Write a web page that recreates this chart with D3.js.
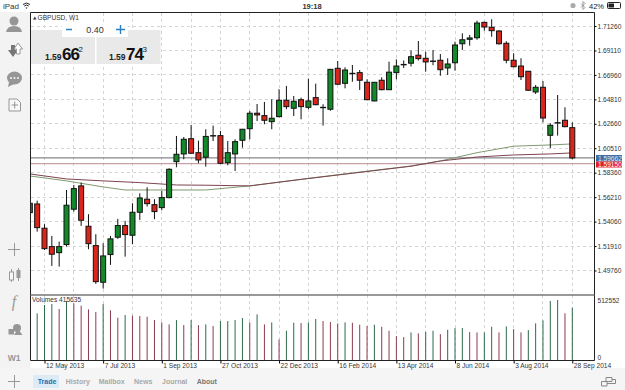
<!DOCTYPE html>
<html>
<head>
<meta charset="utf-8">
<script src="https://cdn.jsdelivr.net/npm/d3@7"></script>
<style>
  html, body { margin: 0; padding: 0; background: #fff; overflow: hidden; }
  svg { display: block; }
  text { font-family: "Liberation Sans", Arial, sans-serif; fill: #333; }
  .axis-label { font-size: 6.6px; fill: #333; }
</style>
</head>
<body>
<svg width="625" height="390"></svg>
<script>
// GBPUSD weekly candles
const opens = [
  1.5485, 1.5561, 1.5348, 1.5186, 1.5133, 1.5204, 1.5515, 1.5720, 1.5365, 1.5195,
  1.4873, 1.5116, 1.5269, 1.5371, 1.5286, 1.5488, 1.5603, 1.5555, 1.5529, 1.5617,
  1.5933, 1.6001, 1.6135, 1.6012, 1.5972, 1.6162, 1.6162, 1.5924, 1.6001, 1.6121,
  1.6223, 1.6359, 1.6338, 1.6285, 1.6329, 1.6473, 1.6403, 1.6478, 1.6411, 1.6496,
  1.6411, 1.6394, 1.6754, 1.6622, 1.6710, 1.6716, 1.6631, 1.6467, 1.6649, 1.6566,
  1.6716, 1.6788, 1.6799, 1.6869, 1.6842, 1.6818, 1.6825, 1.6757, 1.6803, 1.6970,
  1.7009, 1.7023, 1.7158, 1.7115, 1.7082, 1.6974, 1.6825, 1.6774, 1.6728, 1.6546,
  1.6587, 1.6165, 1.6276, 1.6297, 1.6232
];
const highs = [
  1.5579, 1.5590, 1.5383, 1.5280, 1.5230, 1.5684, 1.5728, 1.5749, 1.5471, 1.5295,
  1.5216, 1.5280, 1.5430, 1.5412, 1.5567, 1.5655, 1.5708, 1.5603, 1.5676, 1.5875,
  1.6159, 1.6150, 1.6256, 1.6118, 1.6218, 1.6250, 1.6203, 1.6115, 1.6130, 1.6221,
  1.6379, 1.6440, 1.6458, 1.6482, 1.6570, 1.6599, 1.6511, 1.6496, 1.6663, 1.6619,
  1.6438, 1.6748, 1.6818, 1.6763, 1.6783, 1.6739, 1.6657, 1.6634, 1.6675, 1.6812,
  1.6832, 1.6823, 1.6911, 1.6994, 1.6900, 1.6915, 1.6880, 1.6842, 1.6988, 1.7062,
  1.7047, 1.7173, 1.7164, 1.7185, 1.7091, 1.6992, 1.6886, 1.6842, 1.6730, 1.6607,
  1.6642, 1.6271, 1.6519, 1.6411, 1.6279
];
const lows = [
  1.5465, 1.5318, 1.5157, 1.5016, 1.5010, 1.5186, 1.5494, 1.5368, 1.5163, 1.4858,
  1.4817, 1.5025, 1.5254, 1.5098, 1.5207, 1.5421, 1.5538, 1.5427, 1.5506, 1.5611,
  1.5884, 1.5954, 1.6001, 1.5919, 1.5889, 1.6115, 1.5913, 1.5901, 1.5851, 1.6056,
  1.6130, 1.6291, 1.6262, 1.6218, 1.6323, 1.6394, 1.6335, 1.6306, 1.6394, 1.6429,
  1.6250, 1.6381, 1.6607, 1.6578, 1.6636, 1.6563, 1.6473, 1.6464, 1.6561, 1.6563,
  1.6657, 1.6757, 1.6770, 1.6823, 1.6724, 1.6781, 1.6689, 1.6695, 1.6733, 1.6915,
  1.6953, 1.7005, 1.7085, 1.7032, 1.6962, 1.6798, 1.6763, 1.6651, 1.6557, 1.6528,
  1.6279, 1.6051, 1.6162, 1.6235, 1.5954
];
const closes = [
  1.5567, 1.5353, 1.5168, 1.5119, 1.5186, 1.5550, 1.5696, 1.5418, 1.5212, 1.4878,
  1.5104, 1.5254, 1.5371, 1.5292, 1.5488, 1.5614, 1.5564, 1.5494, 1.5617, 1.5866,
  1.5998, 1.6130, 1.6007, 1.5948, 1.6155, 1.6162, 1.5919, 1.6012, 1.6109, 1.6218,
  1.6359, 1.6344, 1.6297, 1.6315, 1.6473, 1.6417, 1.6464, 1.6417, 1.6467, 1.6434,
  1.6411, 1.6745, 1.6614, 1.6739, 1.6710, 1.6649, 1.6478, 1.6631, 1.6566, 1.6720,
  1.6774, 1.6788, 1.6856, 1.6839, 1.6810, 1.6818, 1.6742, 1.6792, 1.6959, 1.7005,
  1.7021, 1.7152, 1.7117, 1.7085, 1.6970, 1.6825, 1.6768, 1.6680, 1.6561, 1.6587,
  1.6317, 1.6253, 1.6276, 1.6241, 1.5966
];
const volumes = [
  250000, 399300, 470100, 478600, 436100, 504100, 484300, 464400, 433300, 410600,
  478600, 424800, 362500, 385200, 379500, 376700, 371000, 342700, 322800, 305900,
  342700, 300200, 342700, 300200, 305900, 291700, 334200, 334200, 342700, 359700,
  322800, 390800, 305900, 322800, 178400, 252000, 320000, 317200, 322800, 351200,
  334200, 325700, 314400, 322800, 320000, 303000, 291700, 303000, 286000, 252000,
  206700, 198200, 237900, 229400, 243600, 252000, 223700, 260500, 274700, 274700,
  240700, 237900, 237900, 286000, 237900, 288900, 266200, 237900, 257700, 314400,
  339800, 504100, 512552, 399300, 447500
];

// Moving averages, as candle index + price
const greenMaIdx = [0, 5, 10, 13, 19, 24, 30, 37, 44, 52, 56, 61, 66, 71, 74];
const greenMa = [1.5807, 1.5764, 1.5711, 1.5684, 1.5684, 1.5684, 1.5720, 1.5778, 1.5834, 1.5895, 1.5939, 1.6012, 1.6069, 1.6080, 1.6089];
const redMaIdx = [0, 5, 10, 15, 20, 24, 30, 37, 44, 52, 56, 61, 66, 71, 74];
const redMa = [1.5825, 1.5781, 1.5764, 1.5749, 1.5728, 1.5726, 1.5720, 1.5777, 1.5831, 1.5893, 1.5939, 1.5974, 1.5992, 1.6001, 1.6010];

const priceTicks = [1.7126, 1.6911, 1.6696, 1.6481, 1.6266, 1.6051, 1.5836, 1.5621, 1.5406, 1.5191, 1.4976];
const dateTicks = ["2013-05-12", "2013-07-07", "2013-09-01", "2013-10-27", "2013-12-22", "2014-02-16", "2014-04-13", "2014-06-08", "2014-08-03", "2014-09-28"];
const volumeTicks = [0, 512552];
const bidPrice = 1.59662;
const askPrice = 1.59150;
const tabs = ["Trade", "History", "Mailbox", "News", "Journal", "About"];

// Chart frame
const frame = { left: 30.5, right: 594.5, top: 12.5, split: 295, bottom: 360.5 };

const weeks = d3.utcSunday.range(Date.UTC(2013, 3, 28), Date.UTC(2014, 8, 29));
const parseDay = d3.utcParse("%Y-%m-%d");
const candles = weeks.map((d, i) => ({ date: d, o: opens[i], h: highs[i], l: lows[i], c: closes[i], v: volumes[i], prev: volumes[i - 1] }));

const svg = d3.select("svg");

// Scales
const x = d3.scaleUtc()
  .domain([parseDay(dateTicks[0]), parseDay(dateTicks[9])])
  .range([44.5, 572.3]);
const y = d3.scaleLinear()
  .domain([priceTicks[0], priceTicks[10]])
  .range([26, 270.5]);
const yVol = d3.scaleLinear()
  .domain(volumeTicks)
  .range([frame.bottom, 300]);

// Side and bottom bars
svg.append("rect").attr("width", frame.left).attr("height", 390).attr("y", 12).attr("fill", "#f3f3f3");
svg.append("rect").attr("y", 368).attr("width", 625).attr("height", 22).attr("fill", "#f5f5f5");
svg.append("rect").attr("x", frame.left).attr("y", frame.top).attr("width", frame.right - frame.left).attr("height", frame.bottom - frame.top).attr("fill", "#fff");

// Grid
const gridWeeks = weeks.filter((d, i) => i % 4 === 2);
const grid = svg.append("g").attr("stroke", "#d4d4d4").attr("stroke-dasharray", "3 3").attr("shape-rendering", "crispEdges");
grid.selectAll(".vgrid")
  .data(gridWeeks)
  .enter()
  .append("line")
  .attr("x1", d => x(d))
  .attr("x2", d => x(d))
  .attr("y1", frame.top)
  .attr("y2", frame.bottom);
grid.selectAll(".hgrid")
  .data(priceTicks)
  .enter()
  .append("line")
  .attr("x1", frame.left)
  .attr("x2", frame.right)
  .attr("y1", d => y(d))
  .attr("y2", d => y(d));

// Clip so the first candle is cut by the frame
svg.append("clipPath").attr("id", "plot")
  .append("rect").attr("x", frame.left).attr("y", frame.top).attr("width", frame.right - frame.left).attr("height", frame.split - frame.top);
const plot = svg.append("g").attr("clip-path", "url(#plot)");

// Bid and ask lines
plot.append("line").attr("x1", frame.left).attr("x2", frame.right).attr("y1", y(bidPrice)).attr("y2", y(bidPrice)).attr("stroke", "#6a6a72");
plot.append("line").attr("x1", frame.left).attr("x2", frame.right).attr("y1", y(askPrice)).attr("y2", y(askPrice)).attr("stroke", "#b98a90");

// Moving averages
const maLine = d3.line().x(d => x(weeks[d[0]])).y(d => y(d[1]));
plot.append("path")
  .attr("d", maLine(d3.zip(greenMaIdx, greenMa)))
  .attr("fill", "none").attr("stroke", "#7f9a70").attr("stroke-width", 1);
plot.append("path")
  .attr("d", maLine(d3.zip(redMaIdx, redMa)))
  .attr("fill", "none").attr("stroke", "#7d4450").attr("stroke-width", 1);

// Candles
plot.selectAll(".wick")
  .data(candles)
  .enter()
  .append("line")
  .attr("class", "wick")
  .attr("x1", d => x(d.date))
  .attr("x2", d => x(d.date))
  .attr("y1", d => y(d.h))
  .attr("y2", d => y(d.l))
  .attr("stroke", "#111");
plot.selectAll(".body")
  .data(candles)
  .enter()
  .append("rect")
  .attr("class", "body")
  .attr("x", d => x(d.date) - 2.5)
  .attr("y", d => y(Math.max(d.o, d.c)))
  .attr("width", 5)
  .attr("height", d => Math.max(Math.abs(y(d.o) - y(d.c)), 0.4))
  .attr("fill", d => d.c >= d.o ? "#138a2a" : "#d8261c")
  .attr("stroke", "#111")
  .attr("stroke-width", 1);

// Volumes: green when the volume rose from the week before
svg.selectAll(".vol")
  .data(candles.slice(1))
  .enter()
  .append("line")
  .attr("class", "vol")
  .attr("x1", d => x(d.date))
  .attr("x2", d => x(d.date))
  .attr("y1", d => yVol(d.v))
  .attr("y2", yVol(0))
  .attr("stroke", d => d.v >= d.prev ? "#2c6a48" : "#8c3a4c");

// Frame
svg.append("path")
  .attr("d", `M${frame.left},${frame.top}H${frame.right}V${frame.bottom}H${frame.left}Z`)
  .attr("fill", "none").attr("stroke", "#222");
svg.append("line").attr("x1", frame.left).attr("x2", frame.right).attr("y1", frame.split).attr("y2", frame.split).attr("stroke", "#777").attr("stroke-width", 1.6);

// Axes
const axisPrice = svg.append("g")
  .attr("transform", `translate(${frame.right},0)`)
  .call(d3.axisRight(y).tickValues(priceTicks).tickFormat(d3.format(".5f")).tickSize(2).tickPadding(1));
axisPrice.select(".domain").remove();
axisPrice.selectAll("text").attr("class", "axis-label");

const axisVol = svg.append("g")
  .attr("transform", `translate(${frame.right},0)`)
  .call(d3.axisRight(yVol).tickValues(volumeTicks).tickFormat(d3.format("d")).tickSize(0).tickPadding(3));
axisVol.select(".domain").remove();
axisVol.selectAll("text").attr("class", "axis-label").attr("dy", d => d === 0 ? "-0.1em" : "0.32em");

const axisDate = svg.append("g")
  .attr("transform", `translate(0,${frame.bottom})`)
  .call(d3.axisBottom(x).tickValues(dateTicks.map(parseDay)).tickFormat(d3.utcFormat("%-d %b %Y")).tickSize(3).tickPadding(0));
axisDate.select(".domain").remove();
axisDate.selectAll("text").attr("class", "axis-label").attr("text-anchor", "start").attr("x", 1);

// Price boxes on the axis
svg.append("rect").attr("x", 596).attr("y", 155).attr("width", 26).attr("height", 6.5).attr("fill", "#3f6fa6");
svg.append("rect").attr("x", 596).attr("y", 161.5).attr("width", 26).attr("height", 6).attr("fill", "#e3202b");
svg.append("text").attr("class", "axis-label").attr("x", 598).attr("y", 160.6).style("fill", "#dfe7f2").text(bidPrice.toFixed(5));
svg.append("text").attr("class", "axis-label").attr("x", 598).attr("y", 167).style("fill", "#fff").text(askPrice.toFixed(5));

// Labels inside the chart
svg.append("path").attr("d", "M33,19.5l1.8,-3l1.8,3Z").attr("fill", "#333");
svg.append("text").attr("class", "axis-label").attr("x", 37.5).attr("y", 20).text("GBPUSD, W1");
svg.append("text").attr("class", "axis-label").attr("x", 32).attr("y", 302).text("Volumes 415635");

// Quote panel
svg.append("rect").attr("x", 31).attr("y", 30).attr("width", 64).attr("height", 34).attr("fill", "#e9e9e9");
svg.append("rect").attr("x", 96.5).attr("y", 30).attr("width", 64).attr("height", 34).attr("fill", "#e9e9e9");
svg.append("rect").attr("x", 62).attr("y", 24).attr("width", 66).attr("height", 13).attr("fill", "#fff");
svg.append("text").attr("x", 95).attr("y", 32.5).attr("text-anchor", "middle").attr("font-size", 9).text("0.40");
svg.append("path").attr("d", "M66,29.5H72M116,29.5H125M120.5,25V34").attr("stroke", "#2a7fc0").attr("stroke-width", 1.4).attr("fill", "none");

const quotes = [
  { x: 45, small: "1.59", big: "66", sup: "2" },
  { x: 109, small: "1.59", big: "74", sup: "3" }
];
quotes.forEach(q => {
  svg.append("text").attr("x", q.x).attr("y", 60).attr("font-size", 8.5).attr("font-weight", "bold").style("fill", "#222").text(q.small);
  svg.append("text").attr("x", q.x + 17).attr("y", 60).attr("font-size", 17).attr("font-weight", "bold").attr("letter-spacing", -1).style("fill", "#111").text(q.big);
  svg.append("text").attr("x", q.x + 33.5).attr("y", 51.5).attr("font-size", 8).style("fill", "#222").text(q.sup);
});

// Status bar
svg.append("text").attr("x", 3).attr("y", 9).attr("font-size", 8).text("iPad");
svg.append("path").attr("d", "M23,4.5Q26.5,1.5 30,4.5M24.3,6Q26.5,4 28.7,6").attr("fill", "none").attr("stroke", "#222");
svg.append("path").attr("d", "M25.5,7.5L26.5,9L27.5,7.5Z").attr("fill", "#222");
svg.append("text").attr("x", 312).attr("y", 9).attr("text-anchor", "middle").attr("font-size", 7.5).attr("font-weight", "bold").text("19:18");
svg.append("circle").attr("cx", 573).attr("cy", 5.5).attr("r", 2.6).attr("fill", "#aaa");
svg.append("path").attr("d", "M581,3.5L585,7.5L583,9.5V1.5L585,3.5L581,7.5").attr("fill", "none").attr("stroke", "#888").attr("stroke-width", 0.8);
svg.append("text").attr("x", 589).attr("y", 9).attr("font-size", 7.5).style("fill", "#222").text("42%");
svg.append("rect").attr("x", 607.5).attr("y", 2.5).attr("width", 13).attr("height", 6).attr("rx", 1).attr("fill", "none").attr("stroke", "#222");
svg.append("rect").attr("x", 608.5).attr("y", 3.5).attr("width", 5.5).attr("height", 4).attr("fill", "#222");

// Sidebar icons
const icon = "#969696";
svg.append("circle").attr("cx", 14).attr("cy", 21).attr("r", 4.5).attr("fill", icon);
svg.append("path").attr("d", "M6,32Q7,26 14,26Q21,26 22,32Z").attr("fill", icon);
svg.append("path").attr("d", "M8,50H11V45H15V50H18L13,57Z").attr("fill", "#777");
svg.append("path").attr("d", "M14,49H16.5V54H20V49H22.5L18,43Z").attr("fill", "#fff").attr("stroke", "#999");
svg.append("ellipse").attr("cx", 14.5).attr("cy", 78).attr("rx", 7.5).attr("ry", 6.5).attr("fill", icon);
svg.append("path").attr("d", "M9,82L8,87L14,84Z").attr("fill", icon);
svg.selectAll(".dot").data([11, 14.5, 18]).enter().append("circle").attr("cx", d => d).attr("cy", 78).attr("r", 0.9).attr("fill", "#fff");
svg.append("path").attr("d", "M9,99H17L20.5,102.5V111H9ZM14.7,101.5V108.5M11.5,105H18").attr("fill", "#f8f8f8").attr("stroke", "#969696");
svg.append("path").attr("d", "M8,249.5H20M14.5,243V256").attr("stroke", "#999").attr("fill", "none");
svg.append("path").attr("d", "M11.5,269V282M18.5,268V281").attr("stroke", "#999").attr("fill", "none");
svg.append("rect").attr("x", 9.5).attr("y", 272).attr("width", 4).attr("height", 8).attr("fill", "#f8f8f8").attr("stroke", "#999");
svg.append("rect").attr("x", 16.5).attr("y", 270).attr("width", 4).attr("height", 8).attr("fill", "#999");
svg.append("text").attr("x", 14).attr("y", 307).attr("text-anchor", "middle").attr("font-size", 16).attr("font-style", "italic").style("fill", "#999").style("font-family", "Liberation Serif").text("f");
svg.append("circle").attr("cx", 17).attr("cy", 328).attr("r", 4).attr("fill", icon);
svg.append("rect").attr("x", 8.5).attr("y", 329).attr("width", 5.5).attr("height", 5.5).attr("fill", icon);
svg.append("path").attr("d", "M14,335L18,329L22.5,335Z").attr("fill", icon);
svg.append("text").attr("x", 14).attr("y", 360.5).attr("text-anchor", "middle").attr("font-size", 8.5).attr("font-weight", "bold").style("fill", "#969696").text("W1");

// Bottom tabs
svg.append("path").attr("d", "M8,381.5H20M14.5,375V388").attr("stroke", "#999").attr("fill", "none");
svg.append("rect").attr("x", 33).attr("y", 375).attr("width", 26).attr("height", 13).attr("fill", "#dcebf6");
const tabX = [37.7, 65.7, 98.7, 134, 162, 196.7];
svg.selectAll(".tab")
  .data(tabs)
  .enter()
  .append("text")
  .attr("class", "tab")
  .attr("x", (d, i) => tabX[i])
  .attr("y", 384)
  .attr("font-size", 7)
  .attr("font-weight", "bold")
  .style("fill", (d, i) => i === 0 ? "#1f6fb0" : i === 5 ? "#777" : "#a8a8a8")
  .text(d => d);
svg.append("path").attr("d", "M606,377.5H612V381.5H606ZM601.5,381.5H607V386H601.5ZM612,379.5H615.5V383.5H607").attr("fill", "none").attr("stroke", "#888");
</script>
</body>
</html>
